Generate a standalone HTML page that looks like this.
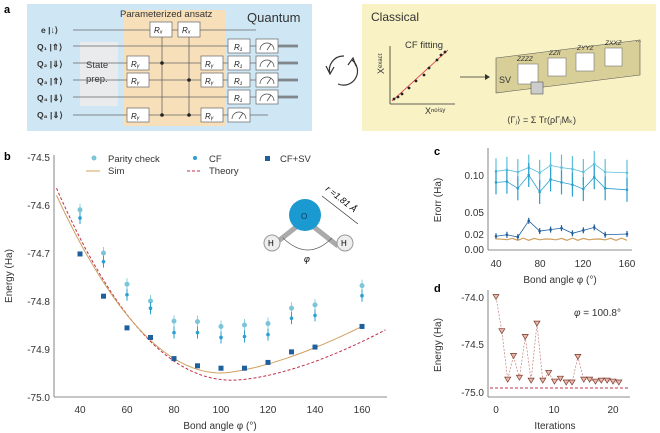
<!DOCTYPE html>
<html><head><meta charset="utf-8"><style>
body{margin:0;background:#fff;}
svg{display:block;font-family:"Liberation Sans",sans-serif;}
</style></head><body>
<svg id="s" width="660" height="433" viewBox="0 0 660 433" xmlns="http://www.w3.org/2000/svg">
<!-- panel a -->
<text x="4" y="13" font-size="11" font-weight="bold">a</text>
<rect x="27" y="4" width="285" height="127" fill="#cfe7f5"/>
<rect x="124" y="10" width="102" height="116" fill="#f7dfb9"/>
<rect x="80" y="42" width="38" height="64" fill="#e9ebed"/>
<text x="120" y="17" font-size="9.5" fill="#333">Parameterized ansatz</text>
<text x="247" y="22" font-size="13" fill="#333">Quantum</text>
<text x="86" y="68" font-size="9.5" fill="#333">State</text>
<text x="86" y="82" font-size="9.5" fill="#333">prep.</text>
<g font-size="8.5" fill="#333" font-weight="bold">
<text x="41" y="33">e  |↓⟩</text><text x="37" y="50">Q₁ |⇑⟩</text><text x="37" y="67">Q₂ |⇓⟩</text>
<text x="37" y="84">Q₃ |⇑⟩</text><text x="37" y="101">Q₄ |⇓⟩</text><text x="37" y="118">Q₈ |⇓⟩</text>
</g>
<g stroke="#666" stroke-width="0.8">
<line x1="73" y1="30" x2="256" y2="30"/>
<line x1="73" y1="46" x2="298" y2="46"/><line x1="73" y1="63" x2="298" y2="63"/>
<line x1="73" y1="80" x2="298" y2="80"/><line x1="73" y1="97" x2="298" y2="97"/>
<line x1="73" y1="115" x2="268" y2="115"/>
<line x1="162" y1="30" x2="162" y2="115"/><line x1="189" y1="30" x2="189" y2="115"/>
</g>
<g fill="#222"><circle cx="162" cy="63" r="1.8"/><circle cx="162" cy="115" r="1.8"/><circle cx="189" cy="80" r="1.8"/><circle cx="189" cy="115" r="1.8"/></g>
<g fill="#fff" stroke="#666" stroke-width="0.7">
<rect x="150" y="22" width="22" height="15"/><rect x="178" y="22" width="22" height="15"/>
<rect x="127" y="56" width="22" height="14"/><rect x="127" y="73" width="22" height="14"/><rect x="127" y="108" width="22" height="14"/>
<rect x="201" y="56" width="22" height="14"/><rect x="201" y="73" width="22" height="14"/><rect x="201" y="108" width="22" height="14"/>
<rect x="228" y="39" width="22" height="14"/><rect x="228" y="56" width="22" height="14"/><rect x="228" y="73" width="22" height="14"/><rect x="228" y="90" width="22" height="14"/><rect x="228" y="108" width="22" height="14"/>
<rect x="256" y="39" width="22" height="14"/><rect x="256" y="56" width="22" height="14"/><rect x="256" y="73" width="22" height="14"/><rect x="256" y="90" width="22" height="14"/>
</g>
<g font-size="8" font-style="italic" fill="#222">
<text x="154" y="33">Rₓ</text><text x="182" y="33">Rₓ</text>
<text x="131" y="67">Rᵧ</text><text x="131" y="84">Rᵧ</text><text x="131" y="119">Rᵧ</text>
<text x="205" y="67">Rᵧ</text><text x="205" y="84">Rᵧ</text><text x="205" y="119">Rᵧ</text>
<text x="234" y="50">R₁</text><text x="234" y="67">R₁</text><text x="234" y="84">R₁</text><text x="234" y="101">R₁</text>
</g>
<g stroke="#666" stroke-width="3" opacity="0.6"><line x1="278" y1="46" x2="298" y2="46"/><line x1="278" y1="63" x2="298" y2="63"/><line x1="278" y1="80" x2="298" y2="80"/><line x1="278" y1="97" x2="298" y2="97"/></g>
<g fill="none" stroke="#444" stroke-width="0.7">
<path d="M260 50 a7 7 0 0 1 14 0 M267 50 l4 -6"/><path d="M260 67 a7 7 0 0 1 14 0 M267 67 l4 -6"/><path d="M260 84 a7 7 0 0 1 14 0 M267 84 l4 -6"/><path d="M260 101 a7 7 0 0 1 14 0 M267 101 l4 -6"/><path d="M232 119 a7 7 0 0 1 14 0 M239 119 l4 -6"/>
</g>
<!-- cycle arrows -->
<path d="M330 74 A14 14 0 0 1 344 56" fill="none" stroke="#333" stroke-width="1.2"/>
<path d="M326 66 L330 74 L334 67" fill="none" stroke="#333" stroke-width="1.2"/>
<path d="M352 60 A14 14 0 0 1 338 84" fill="none" stroke="#333" stroke-width="1.2"/>
<path d="M348 65 L353 58 L356 66" fill="none" stroke="#333" stroke-width="1.2"/>
<!-- classical -->
<rect x="362" y="4" width="294" height="127" fill="#f8f2c4"/>
<text x="371" y="21" font-size="12" fill="#333">Classical</text>
<text x="405" y="48" font-size="9.5" fill="#333">CF fitting</text>
<line x1="390" y1="46" x2="390" y2="104" stroke="#333" stroke-width="0.8"/>
<line x1="390" y1="104" x2="455" y2="104" stroke="#333" stroke-width="0.8"/>
<line x1="392" y1="101" x2="448" y2="50" stroke="#d24" stroke-width="0.8"/>
<g fill="#222"><circle cx="394" cy="99" r="1.4"/><circle cx="398" cy="97" r="1.4"/><circle cx="402" cy="94" r="1.4"/><circle cx="409" cy="88" r="1.4"/><circle cx="416" cy="81" r="1.4"/><circle cx="424" cy="75" r="1.4"/><circle cx="429" cy="68" r="1.4"/><circle cx="437" cy="60" r="1.4"/><circle cx="441" cy="55" r="1.4"/><circle cx="445" cy="52" r="1.4"/></g>
<text x="384" y="74" font-size="9" fill="#333" transform="rotate(-90 384 74)">Xᵉˣᵃᶜᵗ</text>
<text x="425" y="114" font-size="9" fill="#333">Xⁿᵒⁱˢʸ</text>
<line x1="460" y1="77" x2="485" y2="77" stroke="#333" stroke-width="0.8"/><path d="M485 74 L490 77 L485 80Z" fill="#333"/>
<path d="M496 58 L640 40 L640 75 L496 93Z" fill="#d8cf98" stroke="#555" stroke-width="0.6"/>
<text x="499" y="83" font-size="9" fill="#333">SV</text>
<g fill="#fff" stroke="#777" stroke-width="0.6"><rect x="518" y="64" width="20" height="20"/><rect x="548" y="58" width="18" height="18"/><rect x="576" y="53" width="18" height="18"/><rect x="605" y="48" width="17" height="18"/></g>
<g font-size="6.5" font-style="italic" fill="#333"><text x="517" y="61">ZZZZ</text><text x="549" y="55">ZZII</text><text x="577" y="50">ZYYZ</text><text x="605" y="45">ZXXZ</text><text x="636" y="42">...</text></g>
<rect x="531" y="82" width="12" height="12" fill="#ccc" stroke="#555" stroke-width="0.6"/>
<text x="507" y="123" font-size="9" fill="#333">⟨Γⱼ⟩ = Σ Tr(ρΓⱼMₖ)</text>
<!-- panel b -->
<text x="4" y="160" font-size="11" font-weight="bold">b</text>
<g font-size="10" fill="#333" text-anchor="end">
<text x="50" y="161">-74.5</text><text x="50" y="209">-74.6</text><text x="50" y="257">-74.7</text><text x="50" y="305">-74.8</text><text x="50" y="353">-74.9</text><text x="50" y="401">-75.0</text>
</g>
<line x1="54" y1="155" x2="54" y2="397" stroke="#666" stroke-width="0.8"/>
<line x1="54" y1="397" x2="387" y2="397" stroke="#666" stroke-width="0.8"/>
<g font-size="10" fill="#333" text-anchor="middle">
<text x="80" y="413">40</text><text x="127" y="413">60</text><text x="174" y="413">80</text><text x="221" y="413">100</text><text x="268" y="413">120</text><text x="315" y="413">140</text><text x="362" y="413">160</text>
<text x="220" y="429">Bond angle φ (°)</text>
</g>
<text x="12" y="276" font-size="10" fill="#333" text-anchor="middle" transform="rotate(-90 12 276)">Energy (Ha)</text>
<g font-size="9.5" fill="#333">
<circle cx="94" cy="158" r="2.5" fill="#7cc5d8"/><text x="108" y="162">Parity check</text>
<circle cx="195" cy="158" r="2" fill="#2a9fd0"/><text x="209" y="162">CF</text>
<rect x="265" y="156" width="5" height="5" fill="#1f5f9e"/><text x="280" y="162">CF+SV</text>
<line x1="86" y1="171" x2="100" y2="171" stroke="#d0a060"/><text x="108" y="174">Sim</text>
<line x1="187" y1="171" x2="201" y2="171" stroke="#c0304a" stroke-dasharray="3,2"/><text x="209" y="174">Theory</text>
</g>
<!-- molecule -->
<line x1="272" y1="246" x2="305" y2="220" stroke="#aaa" stroke-width="5"/>
<line x1="338" y1="246" x2="305" y2="220" stroke="#aaa" stroke-width="5"/>
<circle cx="305" cy="215" r="16" fill="#1b9ad2"/><text x="301" y="219" font-size="8" fill="#135">O</text>
<circle cx="272" cy="243" r="8" fill="#eee" stroke="#999"/><text x="268" y="246" font-size="8">H</text>
<circle cx="345" cy="243" r="8" fill="#eee" stroke="#999"/><text x="341" y="246" font-size="8">H</text>
<path d="M283 238 Q308 262 332 238" fill="none" stroke="#555" stroke-width="0.6"/>
<text x="304" y="262" font-size="9" font-style="italic">φ</text>
<line x1="322" y1="196" x2="358" y2="224" stroke="#333" stroke-width="0.7"/>
<text x="325" y="190" font-size="9" font-style="italic" transform="rotate(38 325 190)">r =1.81 Å</text>
<g id="bplot"></g>
<!-- panel c -->
<text x="434" y="155" font-size="11" font-weight="bold">c</text>
<line x1="488" y1="148" x2="488" y2="250" stroke="#666" stroke-width="0.8"/>
<line x1="488" y1="250" x2="632" y2="250" stroke="#666" stroke-width="0.8"/>
<g font-size="10" fill="#333" text-anchor="end"><text x="484" y="179">0.10</text><text x="484" y="216">0.05</text><text x="484" y="238">0.02</text><text x="484" y="253">0.00</text></g>
<g font-size="10" fill="#333" text-anchor="middle"><text x="496" y="267">40</text><text x="540" y="267">80</text><text x="583" y="267">120</text><text x="627" y="267">160</text><text x="560" y="283">Bond angle φ (°)</text></g>
<text x="441" y="200" font-size="10" fill="#333" text-anchor="middle" transform="rotate(-90 441 200)">Erorr (Ha)</text>
<g id="cplot"></g>
<!-- panel d -->
<text x="434" y="292" font-size="11" font-weight="bold">d</text>
<line x1="488" y1="290" x2="488" y2="397" stroke="#666" stroke-width="0.8"/>
<line x1="488" y1="397" x2="630" y2="397" stroke="#666" stroke-width="0.8"/>
<g font-size="10" fill="#333" text-anchor="end"><text x="484" y="301">-74.0</text><text x="484" y="348">-74.5</text><text x="484" y="396">-75.0</text></g>
<g font-size="10" fill="#333" text-anchor="middle"><text x="496" y="413">0</text><text x="554" y="413">10</text><text x="613" y="413">20</text><text x="555" y="429">Iterations</text></g>
<text x="441" y="345" font-size="10" fill="#333" text-anchor="middle" transform="rotate(-90 441 345)">Energy (Ha)</text>
<text x="574" y="316" font-size="10" fill="#333"><tspan font-style="italic">φ</tspan> = 100.8°</text>
<line x1="490" y1="388" x2="628" y2="388" stroke="#c0304a" stroke-dasharray="3,2" stroke-width="0.9"/>
<g id="dplot"></g>
</svg>
<script>
const NS="http://www.w3.org/2000/svg";
function el(p,t,a){const e=document.createElementNS(NS,t);for(const k in a)e.setAttribute(k,a[k]);p.appendChild(e);return e;}
const X=a=>80+(a-40)*2.35, Y=E=>157+(-74.5-E)*480;
const b=document.getElementById('bplot');
let th=[];for(let a=30;a<=170;a+=2){let E;if(a<=105){const t=(105-a)/75;E=-74.965+0.40*Math.pow(t,2.1);}else{const t=(a-105)/65;E=-74.965+0.105*Math.pow(t,1.6);}th.push(X(a).toFixed(1)+','+Y(E).toFixed(1));}
el(b,'polyline',{points:th.join(' '),fill:'none',stroke:'#c0304a','stroke-dasharray':'3,2','stroke-width':1});
let sm=[];for(let a=30;a<=160;a+=2){let E;if(a<=100){const t=(100-a)/70;E=-74.95+0.37*Math.pow(t,2.0);}else{const t=(a-100)/60;E=-74.95+0.097*Math.pow(t,1.5);}sm.push(X(a).toFixed(1)+','+Y(E).toFixed(1));}
el(b,'polyline',{points:sm.join(' '),fill:'none',stroke:'#d0a060','stroke-width':1});
const ang=[40,50,60,70,80,90,100,110,120,130,140,160];
const pc=[-74.61,-74.70,-74.765,-74.80,-74.842,-74.843,-74.853,-74.85,-74.847,-74.815,-74.808,-74.768];
const cf=[-74.627,-74.718,-74.787,-74.815,-74.866,-74.866,-74.876,-74.874,-74.87,-74.836,-74.83,-74.789];
const sv=[-74.702,-74.79,-74.856,-74.876,-74.92,-74.935,-74.94,-74.94,-74.928,-74.906,-74.896,-74.853];
ang.forEach((a,i)=>{const x=X(a);
el(b,'line',{x1:x,x2:x,y1:Y(pc[i])-6,y2:Y(pc[i])+6,stroke:'#8fd0e0','stroke-width':1});
el(b,'circle',{cx:x,cy:Y(pc[i]),r:2.5,fill:'#7cc5d8'});
el(b,'line',{x1:x,x2:x,y1:Y(cf[i])-6,y2:Y(cf[i])+6,stroke:'#2a9fd0','stroke-width':1});
el(b,'circle',{cx:x,cy:Y(cf[i]),r:1.8,fill:'#2a9fd0'});
el(b,'rect',{x:x-2.5,y:Y(sv[i])-2.5,width:5,height:5,fill:'#1f5f9e'});});
const c=document.getElementById('cplot');const CX=a=>496+(a-40)*131/120;
const CY=v=>v>=0.05?212-(v-0.05)*740:v>=0.02?234-(v-0.02)*733:249-v*750;
const e1=[0.105,0.107,0.104,0.11,0.103,0.113,0.11,0.108,0.104,0.115,0.104,0.103];
const e2=[0.09,0.091,0.082,0.1,0.077,0.094,0.09,0.087,0.081,0.097,0.082,0.08];
const e3=[0.017,0.019,0.016,0.038,0.024,0.026,0.028,0.021,0.025,0.029,0.019,0.02];
const draw=(arr,col,eb)=>{el(c,'polyline',{points:arr.map((v,i)=>CX(ang[i])+','+CY(v)).join(' '),fill:'none',stroke:col,'stroke-width':0.8});
arr.forEach((v,i)=>{const x=CX(ang[i]);el(c,'line',{x1:x,x2:x,y1:CY(v)-eb,y2:CY(v)+eb,stroke:col,'stroke-width':1.2});el(c,'circle',{cx:x,cy:CY(v),r:1.3,fill:col});});};
draw(e1,'#5cc0dc',13);draw(e2,'#2a9fd0',12);draw(e3,'#1f5f9e',3);
let pts=[];for(let a=40;a<=160;a+=5)pts.push(CX(a)+','+(CY(0.013+0.0015*Math.sin(a*0.7))).toFixed(1));
el(c,'polyline',{points:pts.join(' '),fill:'none',stroke:'#d0a060','stroke-width':1.2});
const d=document.getElementById('dplot');const DX=i=>496+i*5.85,DY=E=>297+(-74.0-E)*95;
const it=[-74.0,-74.36,-74.87,-74.62,-74.85,-74.42,-74.88,-74.28,-74.88,-74.80,-74.89,-74.86,-74.9,-74.9,-74.63,-74.87,-74.87,-74.89,-74.88,-74.88,-74.89,-74.9];
el(d,'polyline',{points:it.map((v,i)=>DX(i)+','+DY(v)).join(' '),fill:'none',stroke:'#c0807a','stroke-dasharray':'2,1.5','stroke-width':0.7});
it.forEach((v,i)=>{const x=DX(i),y=DY(v);el(d,'path',{d:`M${x-3} ${y-2.5} L${x+3} ${y-2.5} L${x} ${y+2.5}Z`,fill:'#e8b8a8',stroke:'#7a3a30','stroke-width':0.7});});
</script>
</body></html>
